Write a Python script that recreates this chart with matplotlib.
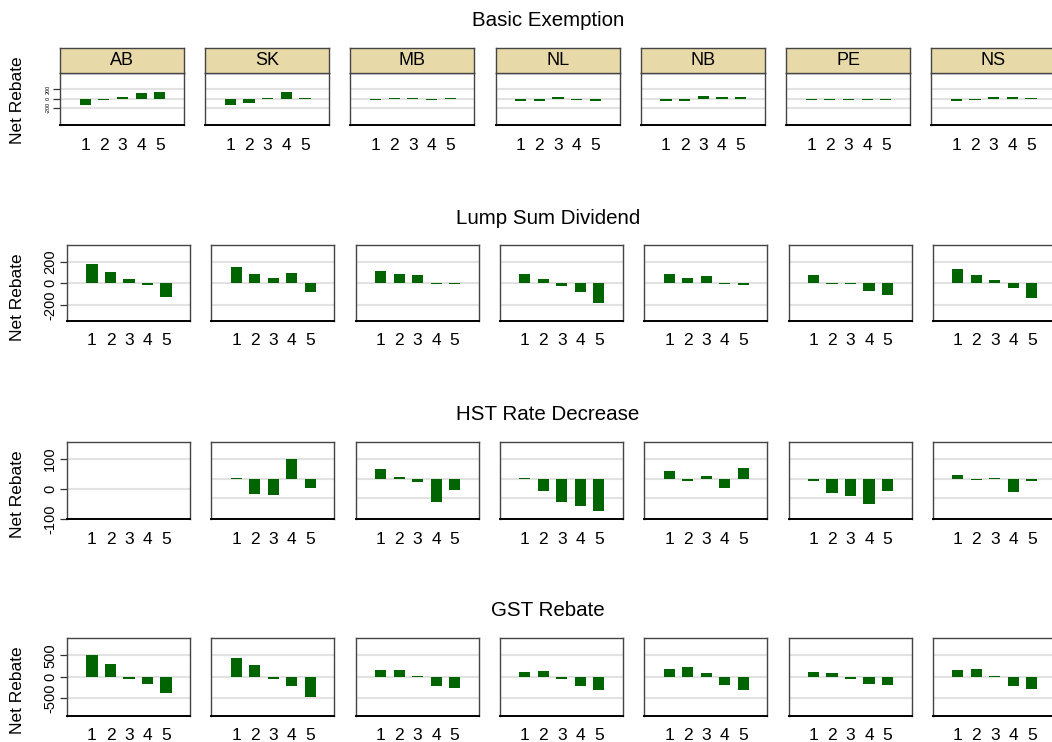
import matplotlib
matplotlib.use('Agg')
import matplotlib.pyplot as plt

plt.rcParams['font.family'] = ['Liberation Sans', 'DejaVu Sans']

W, H = 1052, 742

provinces = ['AB', 'SK', 'MB', 'NL', 'NB', 'PE', 'NS']
quintiles = [1, 2, 3, 4, 5]
titles = ['Basic Exemption', 'Lump Sum Dividend', 'HST Rate Decrease', 'GST Rebate']
ylabel = 'Net Rebate'

# values per province (AB, SK, MB, NL, NB, PE, NS), quintiles 1..5
basic_exemption = [
    [-130, -30, 30, 115, 138],
    [-150, -90, 20, 140, 18],
    [-35, 20, 20, -35, 18],
    [-55, -50, 25, -40, -60],
    [-55, -50, 45, 28, 28],
    [-40, -40, -28, -40, -35],
    [-60, -28, 35, 30, 22],
]
lump_sum_dividend = [
    [178, 105, 43, -15, -129],
    [154, 89, 49, 98, -83],
    [114, 89, 74, -6, -5],
    [89, 40, -22, -83, -182],
    [89, 49, 68, -6, -15],
    [74, -6, -8, -74, -108],
    [132, 74, 34, -40, -138],
]
hst_rate_decrease = [
    None,
    [3, -78, -83, 100, -46],
    [52, 8, -17, -119, -55],
    [3, -60, -119, -138, -164],
    [38, -9, 16, -45, 57],
    [-9, -72, -86, -128, -60],
    [21, -4, 3, -67, -9],
]
gst_rebate = [
    [500, 300, -58, -180, -370],
    [437, 270, -48, -214, -468],
    [167, 167, 12, -214, -262],
    [103, 143, -48, -214, -302],
    [190, 230, 79, -198, -302],
    [103, 79, -48, -167, -198],
    [167, 190, 12, -214, -278],
]

row_data = [basic_exemption, lump_sum_dividend, hst_rate_decrease, gst_rebate]
row_ticks = [[-200, 0, 200], [-200, 0, 200], [-100, 0, 100], [-500, 0, 500]]
row_ylim = [(-575, 565), (-345, 354), (-205, 190), (-912, 902)]
hst_first_ylim = (-100, 158)

bar_color = '#006400'
grid_color = '#e2e2e2'
strip_color = '#E7D9A8'
frame_color = '#454545'

# layout (pixels)
row_panel_top = [72.5, 245, 441.7, 638.3]
row_panel_h = [52.5, 75.7, 77.3, 77.4]
row_left = [60, 67, 67, 67]
row_step = [145.2, 144.3, 144.3, 144.3]
row_width = [124, 123, 123, 123]
title_y = [20, 218, 415, 611]
label_y = [100, 297, 494, 690]
strip_top, strip_h = 48, 24.5


def px_axes(x, y, w, h):
    return fig.add_axes([x / W, 1 - (y + h) / H, w / W, h / H])


fig = plt.figure(figsize=(W / 100, H / 100), dpi=100)

for r in range(4):
    fig.text(548 / W, 1 - title_y[r] / H, titles[r], ha='center', va='center', fontsize=14.8)
    fig.text(18 / W, 1 - label_y[r] / H, ylabel, ha='center', va='center', rotation=90, fontsize=12.5)
    for c, prov in enumerate(provinces):
        x0 = row_left[r] + c * row_step[r]
        ax = px_axes(x0, row_panel_top[r], row_width[r], row_panel_h[r])
        ylim = row_ylim[r]
        grid_vals = row_ticks[r]
        if r == 2 and c == 0:
            ylim = hst_first_ylim
        ax.set_xlim(-0.35, 6.3)
        ax.set_ylim(*ylim)
        for g in grid_vals:
            ax.axhline(g, color=grid_color, lw=1.5, zorder=0)
        vals = row_data[r][c]
        if vals is not None:
            ax.bar(quintiles, vals, width=0.6, color=bar_color, edgecolor='none', zorder=2)
        ax.set_xticks(quintiles)
        ax.set_xticklabels([str(q) for q in quintiles], fontsize=12.5)
        ax.tick_params(axis='x', length=0, pad=9)
        for side in ['top', 'left', 'right']:
            ax.spines[side].set_color(frame_color)
            ax.spines[side].set_linewidth(1.0)
        ax.spines['bottom'].set_color('black')
        ax.spines['bottom'].set_linewidth(1.4)
        if c == 0:
            ax.set_yticks(row_ticks[r])
            fs = 4.0 if r == 0 else 10.5
            ax.set_yticklabels([str(t) for t in row_ticks[r]], fontsize=fs,
                               rotation=90, va='center')
            ax.tick_params(axis='y', length=5, width=0.9, color='#333333', pad=2)
        else:
            ax.set_yticks([])
        if r == 0:
            sax = px_axes(x0, strip_top, row_width[r], strip_h)
            sax.set_facecolor(strip_color)
            sax.set_xticks([])
            sax.set_yticks([])
            for s in sax.spines.values():
                s.set_color(frame_color)
                s.set_linewidth(1.0)
            sax.text(0.5, 0.5, prov, ha='center', va='center', fontsize=13,
                     transform=sax.transAxes)

fig.savefig('out.png', dpi=100)
